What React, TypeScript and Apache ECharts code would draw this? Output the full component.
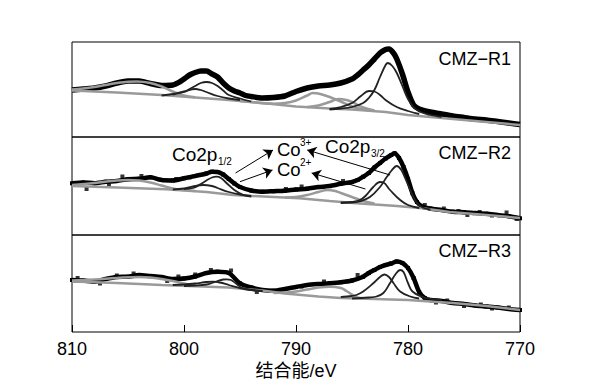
import React, { useEffect, useRef } from "react";
import * as echarts from "echarts";

// ---- axis ----
const X_MIN = 770;
const X_MAX = 810;
const X_TICK = 10;
const X_NAME = "结合能/eV";
const PANEL_LABELS = ["CMZ−R1", "CMZ−R2", "CMZ−R3"];
const PANEL_YMAX = [95, 98, 97];

// ---- Panel 1 (CMZ-R1) : [binding energy eV, intensity a.u.] ----
const p1Data = [[810,47],[809,48],[808,49],[807,51],[806,54],[805,56],[804,56],[803,53.5],[802,51.5],[801,52],[800.4,55],[800,58],[799.5,62],[799,64.5],[798.5,66],[798,66],[797.5,63],[797,60],[796.5,54],[796,49],[795.5,46],[795,44],[794.5,41.5],[794,40.5],[793,39],[792,39.5],[791,41],[790,45.5],[789,49],[788,51],[787,52],[786,54],[785,58],[784.5,62],[784,67],[783.5,72],[783,78],[782.5,84],[782,87.5],[781.7,88],[781.3,84],[781,78],[780.5,63],[780,45],[779.5,32],[779,28],[778,25],[777,23],[776,21],[775,19.5],[774,18],[773,17],[772,15.5],[771,14],[770,12.5]];
const p1Bg = [[810,46.5],[806,44.5],[802,42],[799,39.5],[796,37],[793,34],[790,30.5],[787,28.5],[785,27.5],[782,25],[780,22],[778,20],[776,18],[773,15],[770,12]];
const p1SatA = [[810,47.5],[809,48.5],[808,50],[807,52],[806,54],[805,55.3],[804.2,55.5],[803,54],[802,50.5],[801,45.5],[800,41.5],[799,39.8]];
const p1SatB = [[795,36],[794,35],[793,33.8],[792,33.3],[791,34],[790,36.5],[789,41.5],[788.5,44],[788,43.5],[787,40],[786,35.5],[785,30.5],[784,27.5],[783,26]];
const p1SatC = [[789,30],[788,31.5],[787,35],[786.2,38],[785.5,37],[785,35],[784,29.5],[783,26.5]];
const p1Co3_32 = [[787,27.5],[786,28.5],[785,30],[784,34],[783.5,39],[783,47],[782.5,60],[782,72],[781.8,74],[781.4,71],[781,64],[780.5,51],[780,38],[779.5,30],[779,25.5],[778,22],[777,20]];
const p1Co2_32 = [[787,28],[786,30],[785,34],[784.2,41],[783.5,46],[783,45.5],[782.5,42],[782,37],[781,30],[780,26],[779,23]];
const p1Co3_12 = [[801,42.5],[800,45],[799.5,48],[799,51],[798.5,54],[798,55],[797.5,54],[797,51],[796.5,46.5],[796,42],[795,38.5],[794,35.5]];
const p1Co2_12 = [[802,41.5],[801,43],[800,45.5],[799,48],[798.5,47],[798,45],[797,41],[796,38.5],[795,37]];

// ---- Panel 2 (CMZ-R2) ----
const p2Data = [[810,51.7],[809,52.5],[808,51.8],[807,53.2],[806,54],[805,55.8],[804,56.2],[803,57.7],[802,55],[801,54.6],[800,56.7],[799,59],[798,61.5],[797.5,63.3],[797,63],[796.5,60.5],[796,56],[795.5,51.5],[795,48],[794,44.5],[793,43.3],[792,43.8],[791,44.3],[790,45.5],[789,46.3],[788,47.9],[787,49],[786,51.2],[785,53],[784.5,55],[784,58.3],[783.5,62],[783,67.5],[782.5,72],[782,76.5],[781.5,80],[781.2,81.7],[780.8,77],[780.4,68],[780,56],[779.6,41.7],[779.2,33],[778.7,28.3],[778,26.5],[777,25],[776,23.3],[775,22.8],[774,22],[773,21.3],[772,20],[771,18.8],[770,16.7]];
const p2Noise = [[808.7,46],[806.7,50],[805.5,58.5],[803.8,59],[802.2,55.5],[800.7,56],[799.5,57.5],[790.9,46],[789.5,48.5],[785.8,54],[778.5,30],[776.8,26.5],[775.5,24],[774.7,20],[773.6,23],[772.5,19.5],[771.2,22.5],[770.3,16]];
const p2Bg = [[810,49],[806,47.5],[801.6,45.7],[798,43],[795.6,40],[792,38],[789.7,36.7],[787,34],[784.6,31.7],[781,29],[778.7,26.7],[776.3,23],[773,20],[770,17]];
const p2SatA = [[810,50],[808,52],[806,54.5],[805,55],[804,54.5],[803,52.5],[802,49.5],[801,46.5],[800,45],[799,44]];
const p2SatB = [[791,37.5],[790,38],[789,40],[788,43],[787.2,45],[786.5,44],[786,42],[785,38],[784,34],[783,31.5]];
const p2Co3_32 = [[786,32.5],[785,32.5],[784.3,33.5],[783.4,38],[782.5,48],[781.9,58],[781.5,64],[781,69],[780.6,65],[780.3,58],[779.8,45],[779.2,32],[778.7,27.5],[778,25.5]];
const p2Co2_32 = [[786,32],[785,33],[784.3,35],[783.8,39],[783.1,48],[782.5,53],[782.2,52.5],[781.6,45],[780.7,35],[780,30],[779,27]];
const p2Co3_12 = [[800,46],[799.2,47],[798.5,51],[798,54.5],[797.5,57.5],[797.1,58.3],[796.7,57],[796.2,52],[795.5,45],[794.7,40],[794,38.5]];
const p2Co2_12 = [[801,45.5],[800,46.5],[799,49],[798.3,50],[797.5,49],[797,47],[796,43],[795,40.5],[794,39]];
// annotation arrows in panel 2: [tail, head]
const p2Arrows = [
  [[795.4, 62], [792.05, 85]],
  [[795.0, 53.3], [792.1, 65]],
  [[781.6, 60], [789.0, 85]],
  [[783.8, 46], [788.6, 62]],
];

// ---- Panel 3 (CMZ-R3) ----
const p3Data = [[810,52],[809,51.5],[808,50.3],[807,53],[806,55],[805,55.3],[804,57],[803,56],[802,55],[801,53],[800,53.5],[799,55.5],[798,59],[797,60.3],[796,59],[795,48.7],[794,44.5],[793,42],[792,41.3],[791,43],[790,45],[789,47],[788,48],[787,48.7],[786,49.7],[785,51.5],[784,55.3],[783.5,59],[783,62],[782.5,65],[782,67],[781.5,68.5],[781,70.5],[780.5,69],[780,64],[779.5,54],[779,40],[778.5,34],[778,32],[777,31],[776,29],[775,28],[774,26.5],[773,25.5],[772,24.5],[771,23],[770,22]];
const p3Noise = [[809.5,54],[807.5,48.5],[806,56.5],[804.5,58.5],[801.5,51],[800.5,55.5],[799,57.5],[797.6,62],[795.8,61.5],[793.5,40],[789.5,45.5],[787.5,50.5],[784.5,57],[777.5,29.5],[776.5,31.5],[775,26],[773.5,27.5],[772.5,23.5],[771,24.5]];
const p3Bg = [[810,50.5],[806,49],[802,47],[796,44.5],[793,41.5],[791,38.5],[788,35.5],[786,34],[783,33],[780,32],[778,30.5],[776,29],[773,26],[770,22]];
const p3SatA = [[810,51.5],[808,52.5],[806,54],[804,55],[803,54.5],[802,53],[801,51],[800,48.5],[799,46.5]];
const p3SatB = [[792,39],[791,39.5],[790,40.5],[789,42.5],[788,44.5],[787,45.3],[786,44],[785.5,41],[785,37.5],[784.5,34.5],[784,33.7]];
const p3Co3_32 = [[785,33.5],[783.5,34.5],[782.8,35.5],[782.2,39],[781.6,49],[781.1,58],[780.7,62],[780.4,60],[780,49],[779.6,40.5],[778.7,35],[778,33],[777,32]];
const p3Co2_32 = [[786,35],[785,36],[784.6,37],[784,40.5],[783.1,48.7],[782.5,55],[782.1,57.5],[781.7,55],[781.3,49],[780.7,40.5],[779.8,35.5],[779,33.5]];
const p3Co3_12 = [[800,46],[799,46.5],[798,47.5],[797.5,49],[797,51],[796.5,52.5],[796.2,52.7],[795.8,52],[795.3,48],[794.8,44],[794,42],[793,41]];
const p3Co2_12 = [[801,47],[800,47.5],[799,48.5],[798,50],[797.4,50.3],[796.8,49.5],[796,47],[795,44],[794,42],[793,41]];

const FONT = '"Liberation Sans", Arial, "Noto Sans CJK SC", sans-serif';
const GRAY = "#9a9a9a";
const DARK = "#222";

function lineSeries(g: number, data: number[][], color: string, width: number, smooth: number | boolean, z: number, extra: any = {}) {
  return {
    type: "line",
    xAxisIndex: g,
    yAxisIndex: g,
    data,
    smooth,
    showSymbol: false,
    symbol: "none",
    lineStyle: { color, width },
    z,
    silent: true,
    ...extra,
  };
}

export default function App() {
  const ref = useRef<HTMLDivElement>(null);
  useEffect(() => {
    if (!ref.current) return;
    const chart = echarts.init(ref.current, undefined, { renderer: "svg" });
    const grids = [
      { left: 72, top: 42, width: 448, height: 95 },
      { left: 72, top: 137, width: 448, height: 98 },
      { left: 72, top: 235, width: 448, height: 97 },
    ].map((g) => ({ ...g, show: true, borderColor: "#000", borderWidth: 1, backgroundColor: "transparent" }));

    const xAxes = [0, 1, 2].map((i) => ({
      gridIndex: i,
      type: "value",
      min: X_MIN,
      max: X_MAX,
      interval: X_TICK,
      inverse: true,
      axisLine: { show: false },
      axisTick: { show: i === 2, inside: true, length: 7, lineStyle: { color: "#000", width: 1 } },
      axisLabel: { show: i === 2, color: "#000", fontSize: 18, fontFamily: FONT, margin: 8 },
      splitLine: { show: false },
      name: i === 2 ? X_NAME : "",
      nameLocation: "middle",
      nameGap: 30,
      nameTextStyle: { color: "#000", fontSize: 18, fontFamily: FONT },
    }));
    const yAxes = [0, 1, 2].map((i) => ({ gridIndex: i, type: "value", min: 0, max: PANEL_YMAX[i], show: false }));

    const panels = [
      { data: p1Data, noise: null, bg: p1Bg, sats: [p1SatA, p1SatB, p1SatC], fits: [p1Co3_32, p1Co2_32, p1Co3_12, p1Co2_12], w: 5.5 },
      { data: p2Data, noise: p2Noise, bg: p2Bg, sats: [p2SatA, p2SatB], fits: [p2Co3_32, p2Co2_32, p2Co3_12, p2Co2_12], w: 4.5 },
      { data: p3Data, noise: p3Noise, bg: p3Bg, sats: [p3SatA, p3SatB], fits: [p3Co3_32, p3Co2_32, p3Co3_12, p3Co2_12], w: 4.5 },
    ];
    const series: any[] = [];
    panels.forEach((p, g) => {
      series.push(lineSeries(g, p.data, "#000", p.w, 0.25, 2, g === 0 ? {} : { showSymbol: true, symbol: "rect", symbolSize: 4, itemStyle: { color: "#000" } }));
      if (p.noise) {
        series.push({ type: "scatter", xAxisIndex: g, yAxisIndex: g, data: p.noise, symbol: "rect", symbolSize: 4, itemStyle: { color: "#000" }, z: 2, silent: true });
      }
      series.push(lineSeries(g, p.bg, GRAY, 2.5, false, 3));
      p.sats.forEach((s) => series.push(lineSeries(g, s, GRAY, 2.5, 0.4, 3)));
      p.fits.forEach((f) => series.push(lineSeries(g, f, DARK, 1.8, 0.4, 4)));
    });
    series.push({
      type: "line",
      xAxisIndex: 1,
      yAxisIndex: 1,
      data: [],
      silent: true,
      markLine: {
        silent: true,
        symbol: ["none", "arrow"],
        symbolSize: 9,
        label: { show: false },
        lineStyle: { color: "#000", width: 1, type: "solid" },
        data: p2Arrows.map(([a, b]) => [{ coord: a }, { coord: b }]),
      },
    });

    const txt = (x: number, y: number, text: string, size: number, align = "left") => ({
      type: "text",
      x,
      y,
      silent: true,
      style: { text, fill: "#000", fontSize: size, fontFamily: FONT, align, verticalAlign: "middle" },
    });

    chart.setOption({
      animation: false,
      backgroundColor: "#fff",
      grid: grids,
      xAxis: xAxes,
      yAxis: yAxes,
      series,
      graphic: [
        txt(511, 58.5, PANEL_LABELS[0], 18, "right"),
        txt(511, 153, PANEL_LABELS[1], 18, "right"),
        txt(511, 251, PANEL_LABELS[2], 18, "right"),
        txt(172, 154.5, "Co2p", 19),
        txt(218, 161, "1/2", 10),
        txt(277, 149.5, "Co", 18.5),
        txt(300, 142.5, "3+", 10),
        txt(277, 169, "Co", 18.5),
        txt(300, 162.5, "2+", 10),
        txt(325, 146, "Co2p", 19),
        txt(371, 153, "3/2", 10),
      ],
    });
    return () => chart.dispose();
  }, []);
  return <div ref={ref} style={{ position: "fixed", left: 0, top: 0, width: 591, height: 387, background: "#fff" }} />;
}
